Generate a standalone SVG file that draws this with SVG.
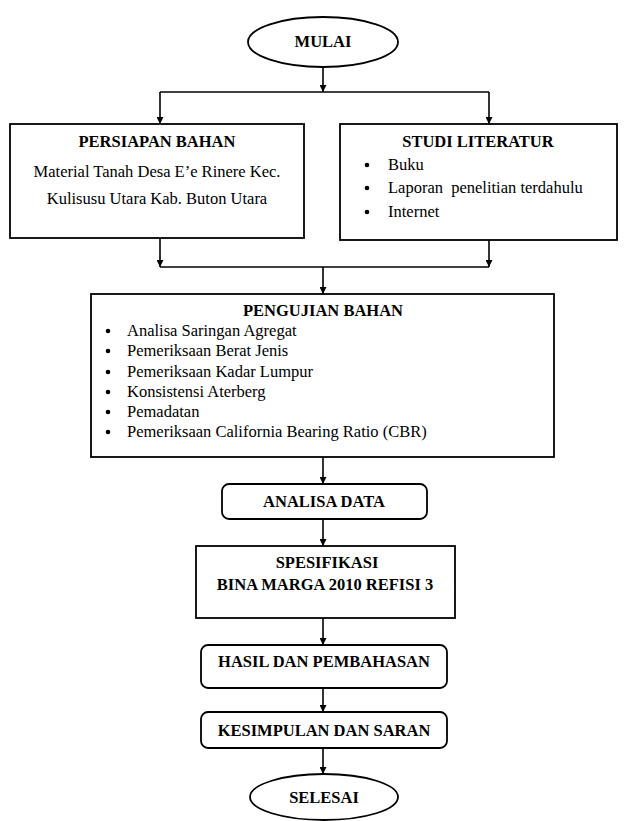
<svg xmlns="http://www.w3.org/2000/svg" width="632" height="821" viewBox="0 0 632 821">
<style>
.n{fill:#fff;stroke:#000;stroke-width:1.8}
.t{font-family:"Liberation Serif","Times New Roman",serif;font-size:16.5px;fill:#000}
.b{font-weight:bold;text-anchor:middle}
.c{stroke:#000;stroke-width:1.6;fill:none}
.a{stroke:#000;stroke-width:1.6;fill:none;marker-end:url(#ah)}
</style>
<defs>
<marker id="ah" viewBox="0 0 10 10" refX="10" refY="5" markerWidth="7" markerHeight="7" markerUnits="userSpaceOnUse" orient="auto">
<path d="M0,0 L10,5 L0,10 z" fill="#000"/>
</marker>
</defs>
<rect width="632" height="821" fill="#fff"/>
<g id="connectors">
<line class="a" x1="323" y1="67" x2="323" y2="92"/>
<polyline class="c" points="160,92 489,92"/>
<line class="a" x1="160" y1="92" x2="160" y2="124"/>
<line class="a" x1="489" y1="92" x2="489" y2="124"/>
<line class="a" x1="160" y1="238" x2="160" y2="267"/>
<line class="a" x1="489" y1="240" x2="489" y2="267"/>
<polyline class="c" points="160,267 489,267"/>
<line class="a" x1="323" y1="267" x2="323" y2="294"/>
<line class="a" x1="323" y1="457" x2="323" y2="484"/>
<line class="a" x1="323" y1="519" x2="323" y2="546"/>
<line class="a" x1="323" y1="618" x2="323" y2="645"/>
<line class="a" x1="323" y1="688" x2="323" y2="712"/>
<line class="a" x1="323" y1="748" x2="323" y2="774"/>
</g>
<g id="mulai">
<ellipse class="n" cx="323" cy="42" rx="75" ry="25"/>
<text class="t b" x="323" y="47">MULAI</text>
</g>
<g id="persiapan">
<rect class="n" x="10" y="124" width="294" height="114"/>
<text class="t b" x="157" y="147">PERSIAPAN BAHAN</text>
<text class="t" x="157" y="177" text-anchor="middle">Material Tanah Desa E’e Rinere Kec.</text>
<text class="t" x="157" y="204" text-anchor="middle">Kulisusu Utara Kab. Buton Utara</text>
</g>
<g id="studi">
<rect class="n" x="340" y="124" width="277" height="116"/>
<text class="t b" x="478" y="147">STUDI LITERATUR</text>
<g class="t">
<circle cx="367" cy="165" r="2.3"/><text x="388" y="170">Buku</text>
<circle cx="367" cy="188" r="2.3"/><text x="388" y="193" xml:space="preserve">Laporan  penelitian terdahulu</text>
<circle cx="367" cy="212" r="2.3"/><text x="388" y="217">Internet</text>
</g>
</g>
<g id="pengujian">
<rect class="n" x="91" y="294" width="463" height="163"/>
<text class="t b" x="323" y="316">PENGUJIAN BAHAN</text>
<g class="t">
<circle cx="108" cy="331" r="2.3"/><text x="127" y="336">Analisa Saringan Agregat</text>
<circle cx="108" cy="351" r="2.3"/><text x="127" y="356">Pemeriksaan Berat Jenis</text>
<circle cx="108" cy="372" r="2.3"/><text x="127" y="377">Pemeriksaan Kadar Lumpur</text>
<circle cx="108" cy="392" r="2.3"/><text x="127" y="397">Konsistensi Aterberg</text>
<circle cx="108" cy="412" r="2.3"/><text x="127" y="417">Pemadatan</text>
<circle cx="108" cy="432" r="2.3"/><text x="127" y="437">Pemeriksaan California Bearing Ratio (CBR)</text>
</g>
</g>
<g id="analisa">
<rect class="n" x="222" y="484" width="205" height="35" rx="7"/>
<text class="t b" x="324" y="507">ANALISA DATA</text>
</g>
<g id="spesifikasi">
<rect class="n" x="196" y="546" width="259" height="72"/>
<text class="t b" x="327" y="568">SPESIFIKASI</text>
<text class="t b" x="325" y="590">BINA MARGA 2010 REFISI 3</text>
</g>
<g id="hasil">
<rect class="n" x="201" y="645" width="246" height="43" rx="7"/>
<text class="t b" x="324" y="667">HASIL DAN PEMBAHASAN</text>
</g>
<g id="kesimpulan">
<rect class="n" x="201" y="712" width="246" height="36" rx="7"/>
<text class="t b" x="324" y="736">KESIMPULAN DAN SARAN</text>
</g>
<g id="selesai">
<ellipse class="n" cx="324" cy="797" rx="74" ry="23"/>
<text class="t b" x="324" y="803">SELESAI</text>
</g>
</svg>
